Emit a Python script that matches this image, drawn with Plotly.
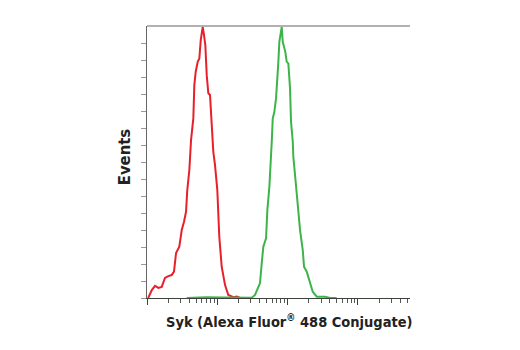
import plotly.graph_objects as go

# Fluorescence intensity (arbitrary units, log scale) and event counts
red_x = [104, 117, 130, 145, 162, 180, 201, 224, 242, 259, 288, 312, 336, 359, 374,
         400, 423, 456, 471, 493, 526, 555, 581, 620, 647, 675, 707, 745, 787, 822,
         877, 927, 1000, 1067, 1154, 1288, 1433, 1690, 1900, 2103]
red_y = [0, 4.7, 7.1, 5.9, 6.5, 11.8, 12.9, 13.5, 15.5, 26.5, 30.2, 40, 44.9, 50.7, 63.5,
         75.3, 92.9, 105.8, 125.2, 133.1, 138.9, 140.9, 151.7, 159.5, 154.6, 148.8, 131.1, 120.4, 119.4, 103.7,
         86, 78.2, 63.5, 36, 18.4, 7.6, 1.8, 0.5, 0.8, 0]

green_x = [367, 700, 1200, 2103, 3085, 3436, 4046, 4285, 4511, 4929, 5145, 5495, 5754, 5943,
           6143, 6471, 6840, 7134, 7380, 7621, 7980, 8241, 8511, 8892, 9268, 9705, 10232,
           10814, 11168, 11830, 12050, 13460, 15000, 16400, 17100, 18700, 20370, 22750,
           25940, 34040, 40090, 49900]
green_y = [0, 0.5, 0.3, 0.2, 0.2, 1.8, 8.8, 20.6, 30.2, 35.1, 51.7, 65.4, 78.2, 91.9,
           105.7, 109.5, 117.4, 127.2, 138.9, 150.7, 157.6, 159.5, 150.7, 147.8, 144.8, 138.9, 138,
           123.3, 103.7, 91.9, 83.1, 61.6, 40, 28.2, 18.4, 15.5, 9.6, 3.7,
           0.8, 0.8, 0, 0]

x_major = [100, 1000, 10000, 100000]
x_minor = [m * d for d in [100, 1000, 10000, 100000] for m in range(2, 10)]
y_ticks = list(range(0, 160, 10))

x_title = "<b>Syk (Alexa Fluor<sup>®</sup> 488 Conjugate)</b>"
y_title = "<b>Events</b>"
FONT = "DejaVu Sans Condensed, Liberation Sans Narrow, Arial"

fig = go.Figure()
fig.add_trace(go.Scatter(x=red_x, y=red_y, mode="lines",
                         line=dict(color="#e8202a", width=2), showlegend=False))
fig.add_trace(go.Scatter(x=green_x, y=green_y, mode="lines",
                         line=dict(color="#3db449", width=2), showlegend=False))

fig.update_layout(
    width=520, height=350,
    margin=dict(l=147, r=110, t=26, b=52),
    paper_bgcolor="white", plot_bgcolor="white",
    xaxis=dict(type="log", range=[2, 5.74], showgrid=False, zeroline=False,
               showline=True, linecolor="#3a423a", linewidth=1,
               tickmode="array", tickvals=x_major, showticklabels=False,
               ticks="outside", ticklen=6, tickcolor="#3a423a", tickwidth=1,
               minor=dict(tickmode="array", tickvals=x_minor, ticks="outside",
                          ticklen=4, tickcolor="#555", tickwidth=1, showgrid=False)),
    yaxis=dict(range=[0, 160], showgrid=False, zeroline=False,
               showline=True, linecolor="#666", linewidth=1,
               tickmode="array", tickvals=y_ticks, showticklabels=False,
               ticks="outside", ticklen=5, tickcolor="#999", tickwidth=1),
    shapes=[dict(type="line", xref="paper", yref="paper", x0=0, x1=1, y0=1, y1=1,
                 line=dict(color="#999", width=1.5))],
    annotations=[
        dict(text=x_title, xref="paper", yref="paper", x=0.54, y=-0.045,
             xanchor="center", yanchor="top", showarrow=False,
             font=dict(family=FONT, size=14.5, color="#222")),
        dict(text=y_title, xref="paper", yref="paper", x=-0.085, y=0.52,
             xanchor="center", yanchor="middle", showarrow=False, textangle=-90,
             font=dict(family=FONT, size=16.5, color="#222")),
    ],
)

fig.write_html("out.html")
